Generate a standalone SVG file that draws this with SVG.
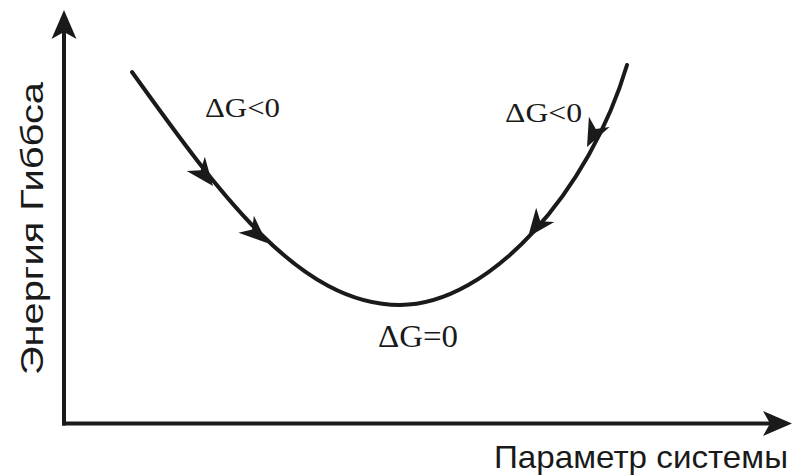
<svg xmlns="http://www.w3.org/2000/svg" width="792" height="476" viewBox="0 0 792 476">
<style>
.ax{stroke:#1a1a1a;stroke-width:4;fill:none}
.cv{stroke:#1a1a1a;stroke-width:4;fill:none;stroke-linecap:round}
.hd{fill:#1a1a1a}
.lbl{font-family:"Liberation Serif","Times New Roman",serif;fill:#1a1a1a}
.ttl{font-family:"Liberation Sans",Arial,sans-serif;fill:#1a1a1a}
</style>
<defs>
<path id="ah" d="M0,0 L-29,-12.5 L-22,0 L-29,12.5 Z"/>
<path id="ch" d="M0,0 L-28,-11.5 L-20,0 L-28,11.5 Z"/>
</defs>
<rect width="792" height="476" fill="#fff"/>
<g id="connectors">
<line class="ax" x1="64" y1="425.5" x2="64" y2="32"/>
<use href="#ah" class="hd" transform="translate(64,10) rotate(-90)"/>
<line class="ax" x1="62" y1="423.5" x2="772" y2="423.5"/>
<use href="#ah" class="hd" transform="translate(792,423.5)"/>
<path class="cv" d="M132,72 C221,196 300,305 400,305 C490,305 590,190 627,65"/>
<use href="#ch" class="hd" transform="translate(213,186) rotate(52)"/>
<use href="#ch" class="hd" transform="translate(267,243) rotate(42)"/>
<use href="#ch" class="hd" transform="translate(587,147) rotate(116)"/>
<use href="#ch" class="hd" transform="translate(528,237) rotate(128)"/>
</g>
<g id="label-left"><text class="lbl" x="205" y="117" font-size="27" textLength="75" lengthAdjust="spacingAndGlyphs">ΔG&lt;0</text></g>
<g id="label-right"><text class="lbl" x="505" y="122" font-size="27" textLength="77" lengthAdjust="spacingAndGlyphs">ΔG&lt;0</text></g>
<g id="label-bottom"><text class="lbl" x="378" y="347" font-size="32" textLength="80" lengthAdjust="spacingAndGlyphs">ΔG=0</text></g>
<g id="y-title"><text class="ttl" transform="translate(43,375) rotate(-90)" font-size="32" textLength="293" lengthAdjust="spacingAndGlyphs">Энергия Гиббса</text></g>
<g id="x-title"><text class="ttl" x="494" y="468" font-size="32" textLength="294" lengthAdjust="spacingAndGlyphs">Параметр системы</text></g>
</svg>
